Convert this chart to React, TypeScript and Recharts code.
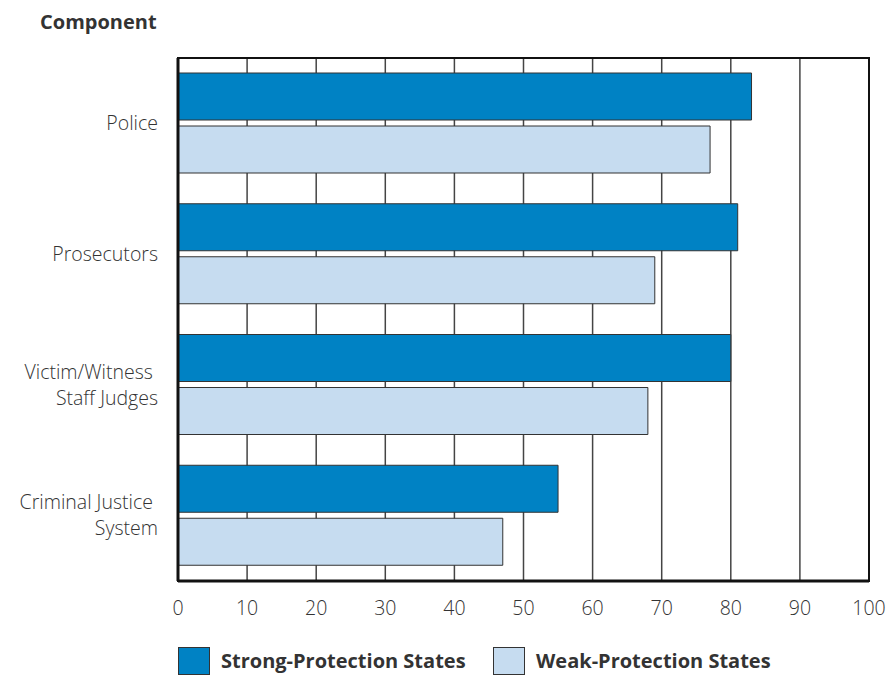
import { BarChart, Bar, XAxis, YAxis, CartesianGrid, ReferenceArea } from 'recharts';

const components = ['Police', 'Prosecutors', 'Victim/Witness \nStaff Judges', 'Criminal Justice \nSystem'];
const strongProtection = [83, 81, 80, 55];
const weakProtection = [77, 69, 68, 47];
const xTicks = [0, 10, 20, 30, 40, 50, 60, 70, 80, 90, 100];

const STRONG = '#0082c4';
const WEAK = '#c6dcf0';
const FONT = '"Open Sans", sans-serif';

const data = components.map((name, i) => ({
  name,
  strong: strongProtection[i],
  weak: weakProtection[i],
}));

function CategoryTick({ x, y, payload }: any) {
  const lines = String(payload.value).split('\n');
  const lineH = 26;
  const start = -((lines.length - 1) * lineH) / 2;
  return (
    <text x={x - 12} y={y} textAnchor="end" fill="#333" fontSize={19.5} fontFamily={FONT} fontWeight={300} style={{ whiteSpace: 'pre' }}>
      {lines.map((l, i) => (
        <tspan key={i} x={x - 12} y={y + start + i * lineH} dy="0.35em">{l}</tspan>
      ))}
    </text>
  );
}

function LegendItem({ color, label, left }: { color: string; label: string; left: number }) {
  return (
    <div style={{ position: 'absolute', left, top: 647, display: 'flex', alignItems: 'center' }}>
      <div style={{ width: 32, height: 28, background: color, border: '1px solid #333', boxSizing: 'border-box', marginRight: 11 }} />
      <span style={{ fontFamily: FONT, fontWeight: 700, fontSize: 20, color: '#333', lineHeight: '28px', whiteSpace: 'nowrap' }}>{label}</span>
    </div>
  );
}

export default function App() {
  return (
    <div style={{ position: 'absolute', left: 0, top: 0, width: 888, height: 675, background: '#fff', overflow: 'hidden' }}>
      <div style={{ position: 'absolute', left: 40, top: 8, fontFamily: FONT, fontWeight: 700, fontSize: 20, color: '#333' }}>
        Component
      </div>
      <BarChart
        width={888}
        height={675}
        data={data}
        layout="vertical"
        margin={{ top: 58, right: 19, bottom: 54, left: 0 }}
        barSize={47}
        barGap={6}
      >
        <CartesianGrid horizontal={false} stroke="#444" strokeWidth={1.5} />
        <ReferenceArea x1={0} x2={100} fill="none" stroke="#111" strokeWidth={2} ifOverflow="extendDomain" />
        <XAxis
          type="number"
          domain={[0, 100]}
          ticks={xTicks}
          tickLine={false}
          axisLine={{ stroke: '#111', strokeWidth: 3 }}
          tick={{ fill: '#333', fontSize: 19.5, fontFamily: FONT, fontWeight: 300 }}
          tickMargin={14}
          height={40}
        />
        <YAxis
          type="category"
          dataKey="name"
          width={178}
          tickLine={false}
          axisLine={{ stroke: '#111', strokeWidth: 3 }}
          tick={<CategoryTick />}
        />
        <Bar dataKey="strong" fill={STRONG} stroke="#333" strokeWidth={1} isAnimationActive={false} />
        <Bar dataKey="weak" fill={WEAK} stroke="#333" strokeWidth={1} isAnimationActive={false} />
      </BarChart>
      <LegendItem color={STRONG} label="Strong-Protection States" left={178} />
      <LegendItem color={WEAK} label="Weak-Protection States" left={493} />
    </div>
  );
}
